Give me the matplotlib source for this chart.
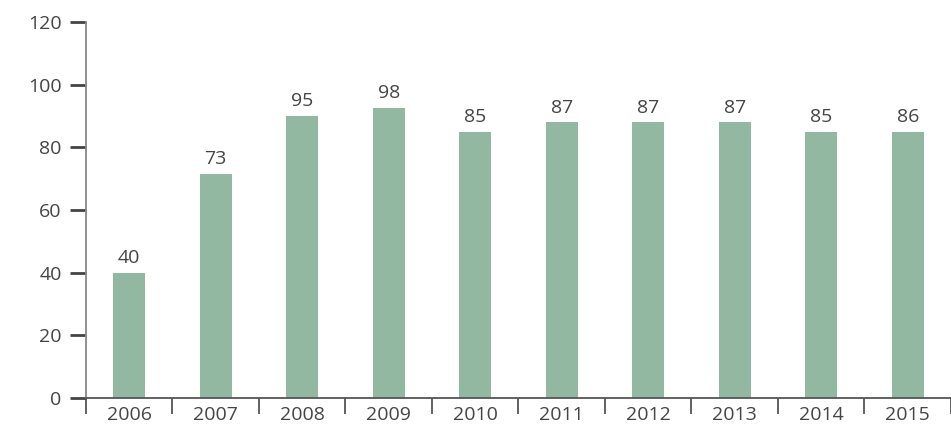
import matplotlib
matplotlib.use('Agg')
import matplotlib.pyplot as plt
import numpy as np

years = ['2006', '2007', '2008', '2009', '2010', '2011', '2012', '2013', '2014', '2015']
values = [40, 73, 95, 98, 85, 87, 87, 87, 85, 86]
# heights the bars are actually drawn at in the reference
bar_heights = [40, 71.5, 90, 92.5, 85, 88, 88, 88, 85, 85]

plt.rcParams['font.family'] = ['Open Sans', 'DejaVu Sans']

fig = plt.figure(figsize=(9.51, 4.26), dpi=100)
ax = fig.add_axes([0.0904, 0.0657, 0.9096, 0.8826])

x = np.arange(len(years))
ax.bar(x, bar_heights, width=0.37, color='#92b8a1', edgecolor='none')

for xi, h, v in zip(x, bar_heights, values):
    ax.annotate(str(v), (xi, h), xytext=(0, 7), textcoords='offset points',
                ha='center', va='baseline', fontsize=14, color='#444444')

ax.set_xlim(-0.5, len(years) - 0.5)
ax.set_ylim(0, 120)
ax.set_yticks(range(0, 121, 20))
ax.set_xticks(x)
ax.set_xticklabels(years)
ax.set_xticks(np.arange(-0.5, len(years), 1), minor=True)

ax.tick_params(axis='x', which='major', length=0, pad=6, labelsize=14, labelcolor='#444444')
ax.tick_params(axis='x', which='minor', length=11.5, width=1.3, color='#555555', direction='out')
ax.tick_params(axis='y', length=11.5, width=2, color='#444444', pad=6, labelsize=14, labelcolor='#444444')

for side in ['top', 'right']:
    ax.spines[side].set_visible(False)
ax.spines['left'].set_color('#888888')
ax.spines['left'].set_linewidth(1.3)
ax.spines['bottom'].set_color('#555555')
ax.spines['bottom'].set_linewidth(1.3)

fig.savefig('out.png', dpi=100)
